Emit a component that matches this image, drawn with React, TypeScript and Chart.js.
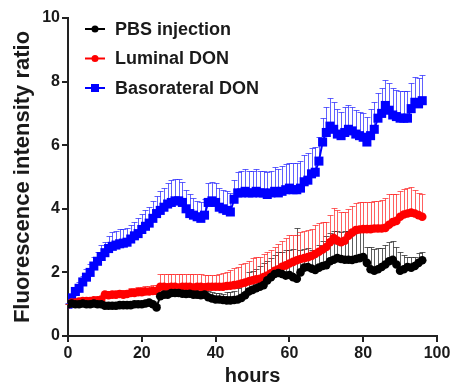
import React, { useEffect, useRef } from 'react';
import { Chart, registerables } from 'chart.js';

Chart.register(...registerables);

const hours = [
  0, 1, 2, 3, 4, 5, 6, 7, 8, 9,
  10, 11, 12, 13, 14, 15, 16, 17, 18, 19,
  20, 21, 22, 23, 24, 25, 26, 27, 28, 29,
  30, 31, 32, 33, 34, 35, 36, 37, 38, 39,
  40, 41, 42, 43, 44, 45, 46, 47, 48, 49,
  50, 51, 52, 53, 54, 55, 56, 57, 58, 59,
  60, 61, 62, 63, 64, 65, 66, 67, 68, 69,
  70, 71, 72, 73, 74, 75, 76, 77, 78, 79,
  80, 81, 82, 83, 84, 85, 86, 87, 88, 89,
  90, 91, 92, 93, 94, 95, 96,
];

const seriesLabels = ['PBS injection', 'Luminal DON', 'Basorateral DON'];

const pbs = [
  1.0, 1.02, 1.0, 1.0, 1.02, 1.0, 1.0, 1.02, 1.0, 1.0,
  0.95, 0.95, 0.95, 0.95, 0.97, 0.97, 0.97, 0.97, 1.0, 1.0,
  1.0, 1.02, 1.05, 1.0, 0.9, 1.25, 1.3, 1.3, 1.35, 1.35,
  1.35, 1.33, 1.32, 1.33, 1.3, 1.3, 1.28, 1.3, 1.22, 1.18,
  1.15, 1.15, 1.13, 1.12, 1.12, 1.13, 1.15, 1.2, 1.28, 1.4,
  1.45, 1.5, 1.55, 1.6, 1.75, 1.85, 1.95, 1.98, 1.95, 1.9,
  1.92, 1.85, 1.8, 2.0, 2.15, 2.17, 2.12, 2.08, 2.15, 2.2,
  2.23, 2.35, 2.4, 2.45, 2.42, 2.4, 2.4, 2.39, 2.42, 2.45,
  2.48, 2.3, 2.1, 2.05, 2.1, 2.17, 2.25, 2.35, 2.4, 2.25,
  2.05, 2.1, 2.17, 2.15, 2.2, 2.3, 2.38,
];
const pbsErr = [
  0.02, 0.03, 0.03, 0.04, 0.04, 0.05, 0.05, 0.05, 0.05, 0.05,
  0.05, 0.05, 0.05, 0.05, 0.05, 0.05, 0.06, 0.06, 0.06, 0.06,
  0.06, 0.06, 0.06, 0.06, 0.06, 0.1, 0.1, 0.12, 0.15, 0.15,
  0.15, 0.2, 0.2, 0.25, 0.2, 0.2, 0.2, 0.2, 0.2, 0.2,
  0.2, 0.2, 0.2, 0.25, 0.25, 0.3, 0.35, 0.4, 0.5, 0.6,
  0.6, 0.6, 0.65, 0.7, 0.6, 0.6, 0.6, 0.65, 0.7, 0.8,
  0.8, 0.9, 1.6, 0.7, 0.6, 0.6, 0.6, 0.55, 0.7, 0.8,
  0.9, 0.9, 0.9, 0.85, 0.85, 0.9, 0.9, 0.9, 0.9, 0.85,
  0.8, 0.5, 0.7, 0.7, 0.67, 0.6, 0.6, 0.6, 0.6, 0.55,
  0.6, 0.45, 0.3, 0.35, 0.3, 0.3, 0.26,
];

const luminal = [
  1.0, 1.05, 1.05, 1.08, 1.1, 1.1, 1.1, 1.12, 1.12, 1.15,
  1.3, 1.28, 1.3, 1.3, 1.32, 1.3, 1.32, 1.35, 1.35, 1.38,
  1.38, 1.4, 1.4, 1.42, 1.42, 1.55, 1.55, 1.53, 1.55, 1.55,
  1.52, 1.55, 1.55, 1.55, 1.52, 1.55, 1.55, 1.53, 1.55, 1.55,
  1.55, 1.55, 1.55, 1.57, 1.58, 1.6, 1.62, 1.65, 1.68, 1.72,
  1.75, 1.78, 1.8, 1.85, 1.9, 1.97, 2.05, 2.1, 2.18, 2.22,
  2.28, 2.33, 2.38, 2.42, 2.45, 2.48, 2.52, 2.58, 2.65, 2.72,
  2.8, 2.95, 3.08, 3.0, 2.95, 3.0, 3.15, 3.25, 3.33, 3.35,
  3.36, 3.36, 3.36, 3.38, 3.38, 3.38, 3.4, 3.5, 3.58, 3.62,
  3.75, 3.82, 3.85, 3.88, 3.85, 3.8, 3.75,
];
const luminalErr = [
  0.02, 0.05, 0.05, 0.06, 0.06, 0.06, 0.07, 0.07, 0.08, 0.08,
  0.12, 0.12, 0.12, 0.13, 0.13, 0.14, 0.14, 0.15, 0.15, 0.15,
  0.15, 0.16, 0.16, 0.17, 0.17, 0.4, 0.4, 0.42, 0.4, 0.4,
  0.42, 0.4, 0.4, 0.4, 0.42, 0.4, 0.4, 0.4, 0.38, 0.38,
  0.38, 0.4, 0.42, 0.45, 0.5, 0.55, 0.55, 0.6, 0.6, 0.65,
  0.7, 0.7, 0.7, 0.72, 0.75, 0.75, 0.75, 0.8, 0.8, 0.85,
  0.9, 0.85, 0.8, 0.85, 0.85, 0.85, 0.85, 0.9, 0.9, 0.85,
  0.8, 0.85, 0.95, 0.95, 0.95, 0.9, 0.85, 0.85, 0.85, 0.85,
  0.85, 0.85, 0.85, 0.85, 0.85, 0.9, 0.95, 0.95, 0.9, 0.85,
  0.8, 0.8, 0.8, 0.8, 0.75, 0.7, 0.7,
];

const basolateral = [
  1.0, 1.2, 1.4, 1.5, 1.7, 1.85, 2.0, 2.2, 2.35, 2.5,
  2.62, 2.75, 2.82, 2.86, 2.9, 2.92, 2.95, 3.05, 3.15, 3.22,
  3.35, 3.45, 3.55, 3.7, 3.85, 3.95, 4.05, 4.15, 4.2, 4.25,
  4.25, 4.2, 4.0, 3.85, 3.8, 3.75, 3.7, 3.8, 4.2, 4.25,
  4.2, 4.05, 4.0, 3.95, 3.9, 4.3, 4.5, 4.5, 4.55, 4.5,
  4.5, 4.55, 4.5, 4.5, 4.45, 4.5, 4.55, 4.5, 4.55, 4.6,
  4.65, 4.6, 4.6, 4.65, 4.85, 4.9, 5.1, 5.15, 5.5, 6.1,
  6.4, 6.6, 6.5, 6.35, 6.3, 6.4, 6.5, 6.45, 6.35, 6.3,
  6.25, 6.1, 6.3, 6.5, 6.85, 7.0, 7.25, 7.1, 6.95, 6.9,
  6.85, 6.85, 6.85, 7.15, 7.35, 7.3, 7.4,
];
const basolateralErr = [
  0.05, 0.1, 0.15, 0.2, 0.2, 0.25, 0.25, 0.3, 0.3, 0.35,
  0.35, 0.4, 0.45, 0.45, 0.45, 0.45, 0.45, 0.45, 0.45, 0.5,
  0.5, 0.5, 0.5, 0.55, 0.55, 0.6, 0.6, 0.65, 0.7, 0.7,
  0.7, 0.65, 0.6, 0.6, 0.55, 0.5, 0.5, 0.5, 0.6, 0.6,
  0.6, 0.6, 0.6, 0.6, 0.6, 0.6, 0.65, 0.7, 0.7, 0.7,
  0.7, 0.7, 0.7, 0.7, 0.7, 0.7, 0.75, 0.75, 0.8, 0.8,
  0.8, 0.85, 0.85, 0.85, 0.85, 0.85, 0.8, 0.8, 0.75, 0.75,
  0.8, 0.9, 0.85, 0.8, 0.75, 0.8, 0.75, 0.75, 0.75, 0.75,
  0.75, 0.8, 0.85, 0.85, 0.8, 0.8, 0.8, 0.85, 0.85, 0.85,
  0.85, 0.85, 0.85, 0.8, 0.8, 0.8, 0.8,
];

const xTicksMin = 0;
const xTicksMax = 100;
const xTickStep = 20;
const yTicksMin = 0;
const yTicksMax = 10;
const yTickStep = 2;

const FONT = '"Liberation Sans", Arial, Helvetica, sans-serif';
const TEXT = '#1a1a1a';

const colors = ['#000000', '#ff0000', '#0000ff'];
const errColors = ['rgba(40,40,40,0.75)', 'rgba(255,30,30,0.7)', 'rgba(30,30,255,0.7)'];
const pointStyles = ['circle', 'circle', 'rect'];
const pointRadii = [4.3, 4.3, 6.4];

export default function App() {
  const ref = useRef<HTMLCanvasElement>(null);

  useEffect(() => {
    if (!ref.current) return;
    const values = [pbs, luminal, basolateral];
    const errs = [pbsErr, luminalErr, basolateralErr];

    const errorBars = {
      id: 'errorBars',
      beforeDatasetsDraw(chart: any) {
        const { ctx, scales } = chart;
        const xs = scales.x;
        const ys = scales.y;
        ctx.save();
        ctx.lineWidth = 1;
        values.forEach((vals, di) => {
          ctx.strokeStyle = errColors[di];
          vals.forEach((v, i) => {
            const px = Math.round(xs.getPixelForValue(hours[i])) + 0.5;
            const py = ys.getPixelForValue(v);
            const pe = Math.round(ys.getPixelForValue(v + errs[di][i])) + 0.5;
            ctx.beginPath();
            ctx.moveTo(px, py);
            ctx.lineTo(px, pe);
            ctx.moveTo(px - 3, pe);
            ctx.lineTo(px + 3, pe);
            ctx.stroke();
          });
        });
        ctx.restore();
      },
    };

    const legend = {
      id: 'insideLegend',
      afterDraw(chart: any) {
        const { ctx, chartArea } = chart;
        ctx.save();
        ctx.font = `bold 18px ${FONT}`;
        ctx.textBaseline = 'middle';
        ctx.textAlign = 'left';
        seriesLabels.forEach((label, i) => {
          const y = chartArea.top + 11 + i * 29.5;
          const x0 = chartArea.left + 17;
          ctx.strokeStyle = colors[i];
          ctx.fillStyle = colors[i];
          ctx.lineWidth = 2;
          ctx.beginPath();
          ctx.moveTo(x0, y);
          ctx.lineTo(x0 + 20, y);
          ctx.stroke();
          const cx = x0 + 10;
          ctx.beginPath();
          if (pointStyles[i] === 'rect') {
            ctx.rect(cx - 4, y - 4, 8, 8);
          } else {
            ctx.arc(cx, y, 3.5, 0, Math.PI * 2);
          }
          ctx.fill();
          ctx.fillStyle = TEXT;
          ctx.fillText(label, x0 + 30, y + 1);
        });
        ctx.restore();
      },
    };

    const chart = new Chart(ref.current, {
      type: 'line',
      data: {
        datasets: values.map((vals, i) => ({
          label: seriesLabels[i],
          data: vals.map((v, j) => ({ x: hours[j], y: v })),
          borderColor: colors[i],
          backgroundColor: colors[i],
          borderWidth: 2,
          pointStyle: pointStyles[i] as any,
          pointRadius: pointRadii[i],
          pointBorderWidth: 0,
          pointBackgroundColor: colors[i],
          tension: 0,
          fill: false,
        })),
      },
      options: {
        animation: false,
        responsive: true,
        maintainAspectRatio: false,
        layout: { padding: { top: 18, right: 18, left: 0, bottom: 0 } },
        plugins: { legend: { display: false }, tooltip: { enabled: false } },
        scales: {
          x: {
            type: 'linear',
            min: xTicksMin,
            max: xTicksMax,
            ticks: {
              stepSize: xTickStep,
              color: TEXT,
              padding: 2,
              maxRotation: 0,
              font: { family: FONT, size: 16, weight: 'bold' },
            },
            grid: {
              display: true,
              drawOnChartArea: false,
              drawTicks: true,
              tickLength: 6,
              color: '#222',
              lineWidth: 2,
            },
            border: { display: true, color: '#222', width: 2 },
            title: {
              display: true,
              text: 'hours',
              color: TEXT,
              font: { family: FONT, size: 20, weight: 'bold' },
              padding: { top: 0, bottom: 0 },
            },
            afterFit: (s: any) => {
              s.height = 52;
            },
          },
          y: {
            type: 'linear',
            min: yTicksMin,
            max: yTicksMax,
            ticks: {
              stepSize: yTickStep,
              color: TEXT,
              padding: 2,
              font: { family: FONT, size: 16, weight: 'bold' },
            },
            grid: {
              display: true,
              drawOnChartArea: false,
              drawTicks: true,
              tickLength: 6,
              color: '#222',
              lineWidth: 2,
            },
            border: { display: true, color: '#222', width: 2 },
            title: {
              display: true,
              text: 'Fluorescence intensity ratio',
              color: TEXT,
              font: { family: FONT, size: 22, weight: 'bold' },
              padding: { top: 10, bottom: 0 },
            },
            afterFit: (s: any) => {
              s.width = 68;
            },
          },
        },
      },
      plugins: [errorBars, legend],
    });
    return () => chart.destroy();
  }, []);

  return (
    <div style={{ position: 'absolute', left: 0, top: 0, width: 455, height: 388, background: '#fff' }}>
      <canvas ref={ref} />
    </div>
  );
}
